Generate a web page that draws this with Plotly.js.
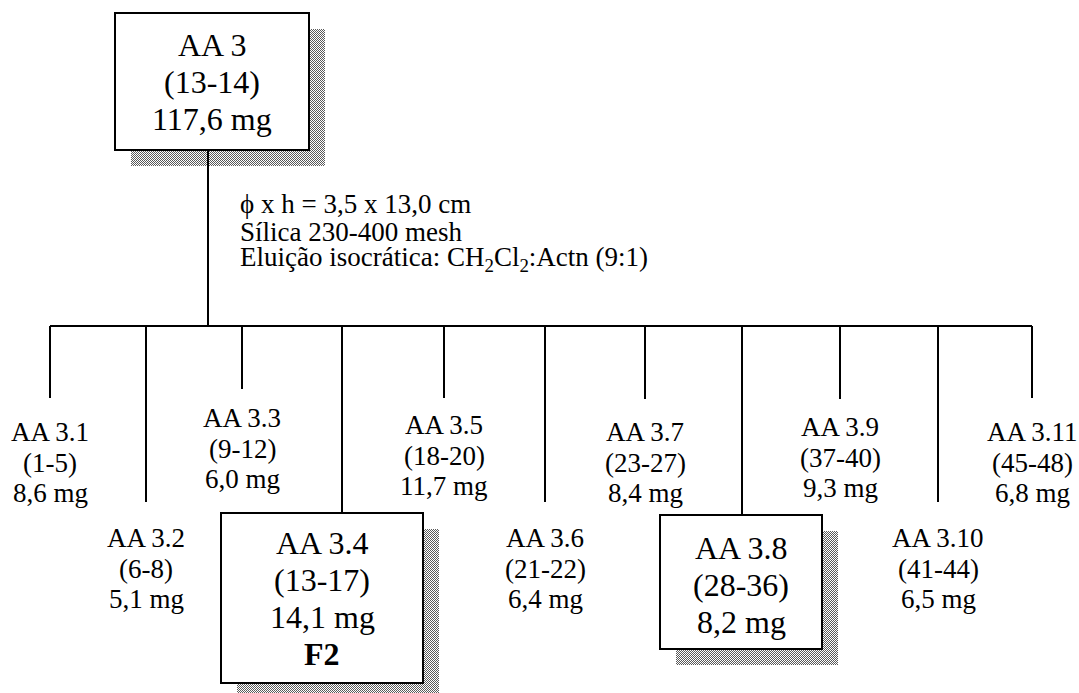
<!DOCTYPE html>
<html>
<head>
<meta charset="utf-8">
<script src="https://cdn.plot.ly/plotly-3.0.1.min.js"></script>
<style>html,body{margin:0;padding:0;background:#fff;}#chart{width:1079px;height:693px;}</style>
</head>
<body>
<div id="chart"></div>
<script>
// ---- data ----
const parentName = 'AA 3';
const parentRange = '(13-14)';
const parentMass = '117,6 mg';
const columnNotes = ['ϕ x h = 3,5 x 13,0 cm', 'Sílica 230-400 mesh', 'Eluição isocrática: CH<sub>2</sub>Cl<sub>2</sub>:Actn (9:1)'];
const fracNames = ['AA 3.1','AA 3.2','AA 3.3','AA 3.4','AA 3.5','AA 3.6','AA 3.7','AA 3.8','AA 3.9','AA 3.10','AA 3.11'];
const fracRanges = ['(1-5)','(6-8)','(9-12)','(13-17)','(18-20)','(21-22)','(23-27)','(28-36)','(37-40)','(41-44)','(45-48)'];
const fracMasses = ['8,6 mg','5,1 mg','6,0 mg','14,1 mg','11,7 mg','6,4 mg','8,4 mg','8,2 mg','9,3 mg','6,5 mg','6,8 mg'];
const fracTags = ['','','','F2','','','','','','',''];

// ---- layout geometry (pixels) ----
const W = 1079, H = 693;
const FONT = '"Liberation Serif", "Times New Roman", Times, serif';
const branchY = 326;
const dropX = [50, 146, 242, 342, 444, 545, 645, 742, 840, 938, 1032];
const dropEnd = [398, 502, 389, 513, 398, 502, 399, 515, 399, 502, 398];
const labelY = [432, 538, 418, 0, 425, 538, 432, 0, 427, 538, 432];
const labelGap = 30.5, labelSize = 27;
const boxGap = 37, boxSize = 32;
const noteX = 238, noteY = 204, noteGap = 27.5, noteSize = 27;
const shadowOff = 16;
const parentBox = {x0: 115, x1: 309, y0: 13, y1: 150, ty: 45};
const childBoxes = {3: {x0: 221, x1: 423, y0: 513, y1: 683, ty: 543}, 7: {x0: 660, x1: 822, y0: 515, y1: 649, ty: 548}};
const mainX = 208;

function checker(w, h) {
  const c = document.createElement('canvas');
  c.width = w; c.height = h;
  const g = c.getContext('2d');
  g.fillStyle = '#ffffff'; g.fillRect(0, 0, w, h);
  g.fillStyle = '#5a5a5a';
  for (let y = 0; y < h; y++) for (let x = (y % 2); x < w; x += 2) g.fillRect(x, y, 1, 1);
  return c.toDataURL('image/png');
}

const shapes = [], annotations = [], images = [];
const line = {color: '#000', width: 2};
function box(b) {
  const w = b.x1 - b.x0, h = b.y1 - b.y0;
  images.push({source: checker(w, h), xref: 'x', yref: 'y', x: b.x0 + shadowOff, y: b.y0 + shadowOff,
    sizex: w, sizey: h, xanchor: 'left', yanchor: 'top', sizing: 'stretch', layer: 'below'});
  shapes.push({type: 'rect', xref: 'x', yref: 'y', x0: b.x0, x1: b.x1, y0: b.y0, y1: b.y1,
    line: line, fillcolor: '#ffffff', layer: 'above'});
}
function text(t, x, y, size, bold) {
  annotations.push({text: bold ? '<b>' + t + '</b>' : t, x: x, y: y, xref: 'x', yref: 'y', showarrow: false,
    xanchor: 'center', yanchor: 'middle', font: {family: FONT, size: size, color: '#000'}});
}

// parent
box(parentBox);
const pcx = (parentBox.x0 + parentBox.x1) / 2;
[parentName, parentRange, parentMass].forEach((t, k) => text(t, pcx, parentBox.ty + k * boxGap, boxSize));
shapes.push({type: 'line', xref: 'x', yref: 'y', x0: mainX, x1: mainX, y0: parentBox.y1, y1: branchY, line: line});
// column notes
columnNotes.forEach((t, k) => annotations.push({text: t, x: noteX, y: noteY + k * noteGap, xref: 'x', yref: 'y', showarrow: false,
  xanchor: 'left', yanchor: 'middle', font: {family: FONT, size: noteSize, color: '#000'}}));
// branch
shapes.push({type: 'line', xref: 'x', yref: 'y', x0: dropX[0], x1: dropX[dropX.length - 1], y0: branchY, y1: branchY, line: line});
fracNames.forEach((name, i) => {
  shapes.push({type: 'line', xref: 'x', yref: 'y', x0: dropX[i], x1: dropX[i], y0: branchY, y1: dropEnd[i], line: line});
  const lines = [name, fracRanges[i], fracMasses[i]];
  const b = childBoxes[i];
  if (b) {
    box(b);
    const cx = (b.x0 + b.x1) / 2;
    lines.forEach((t, k) => text(t, cx, b.ty + k * boxGap, boxSize));
    if (fracTags[i]) text(fracTags[i], cx, b.ty + 3 * boxGap, boxSize, true);
  } else {
    lines.forEach((t, k) => text(t, dropX[i], labelY[i] + k * labelGap, labelSize));
  }
});

Plotly.newPlot('chart', [], {
  width: W, height: H, margin: {l: 0, r: 0, t: 0, b: 0},
  paper_bgcolor: '#fff', plot_bgcolor: 'rgba(0,0,0,0)', showlegend: false,
  font: {family: FONT, color: '#000'},
  xaxis: {range: [0, W], visible: false, fixedrange: true},
  yaxis: {range: [H, 0], visible: false, fixedrange: true},
  shapes: shapes, annotations: annotations, images: images
}, {displayModeBar: false, staticPlot: true});
</script>
</body>
</html>
